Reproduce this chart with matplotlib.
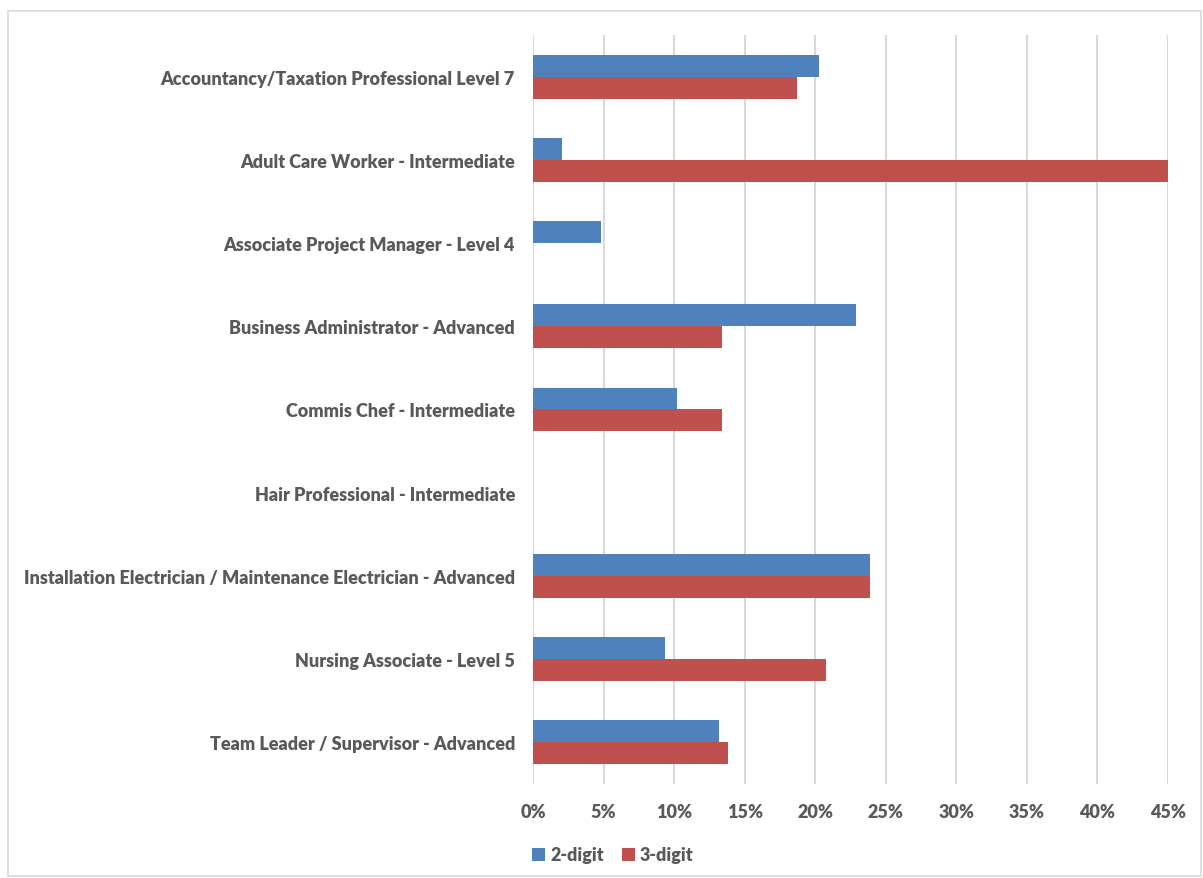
import matplotlib
matplotlib.use("Agg")
import matplotlib.pyplot as plt
import numpy as np
from matplotlib.patches import Rectangle
from matplotlib.ticker import FuncFormatter

categories = [
    "Accountancy/Taxation Professional Level 7",
    "Adult Care Worker - Intermediate",
    "Associate Project Manager - Level 4",
    "Business Administrator - Advanced",
    "Commis Chef - Intermediate",
    "Hair Professional - Intermediate",
    "Installation Electrician / Maintenance Electrician - Advanced",
    "Nursing Associate - Level 5",
    "Team Leader / Supervisor - Advanced",
]
two_digit = [20.25, 2.08, 4.8, 22.9, 10.2, 0.0, 23.87, 9.35, 13.15]
three_digit = [18.72, 45.0, 0.0, 13.4, 13.4, 0.0, 23.87, 20.73, 13.79]
series_names = ["2-digit", "3-digit"]
xticks = [0, 5, 10, 15, 20, 25, 30, 35, 40, 45]

BLUE = "#4f81bd"
RED = "#c0504d"
GREY = "#595959"
FONT = "Lato"
FS = 13.0

W, H = 1203, 879
fig = plt.figure(figsize=(W / 100, H / 100), dpi=100)
ax = fig.add_axes([533 / W, 1 - 785 / H, (1168 - 533) / W, (785 - 36) / H])

y = np.arange(len(categories))
bh = 0.264
ax.barh(y - bh / 2, two_digit, height=bh, color=BLUE, label=series_names[0], zorder=3)
ax.barh(y + bh / 2, three_digit, height=bh, color=RED, label=series_names[1], zorder=3)

ax.set_ylim(len(categories) - 0.5, -0.5)
ax.set_xlim(0, 45)
ax.set_xticks(xticks)
ax.xaxis.set_major_formatter(FuncFormatter(lambda v, p: f"{v:.0f}%"))
ax.set_yticks(y)
ax.set_yticklabels(categories)
for lab in ax.get_yticklabels() + ax.get_xticklabels():
    lab.set_fontfamily(FONT)
    lab.set_fontweight("heavy")
    lab.set_color(GREY)
    lab.set_fontsize(FS)
ax.tick_params(axis="y", length=0, pad=13)
ax.tick_params(axis="x", length=0, pad=14)
for s in ax.spines.values():
    s.set_visible(False)
ax.grid(axis="x", color="#d9d9d9", linewidth=1.5, zorder=0)
ax.set_axisbelow(True)

leg = fig.legend(loc="center", bbox_to_anchor=(613 / W, 1 - 856 / H), ncol=2, frameon=False,
                 handlelength=0.7, handleheight=0.7, handletextpad=0.3, columnspacing=1.0,
                 prop={"family": FONT, "weight": "heavy", "size": FS})
for t in leg.get_texts():
    t.set_color(GREY)

fig.patches.append(Rectangle((8 / W, 1 - 877 / H), (1201 - 8) / W, (877 - 12) / H,
                             transform=fig.transFigure, fill=False, edgecolor="#d9d9d9",
                             linewidth=1.2))

fig.savefig("out.png", dpi=100)
